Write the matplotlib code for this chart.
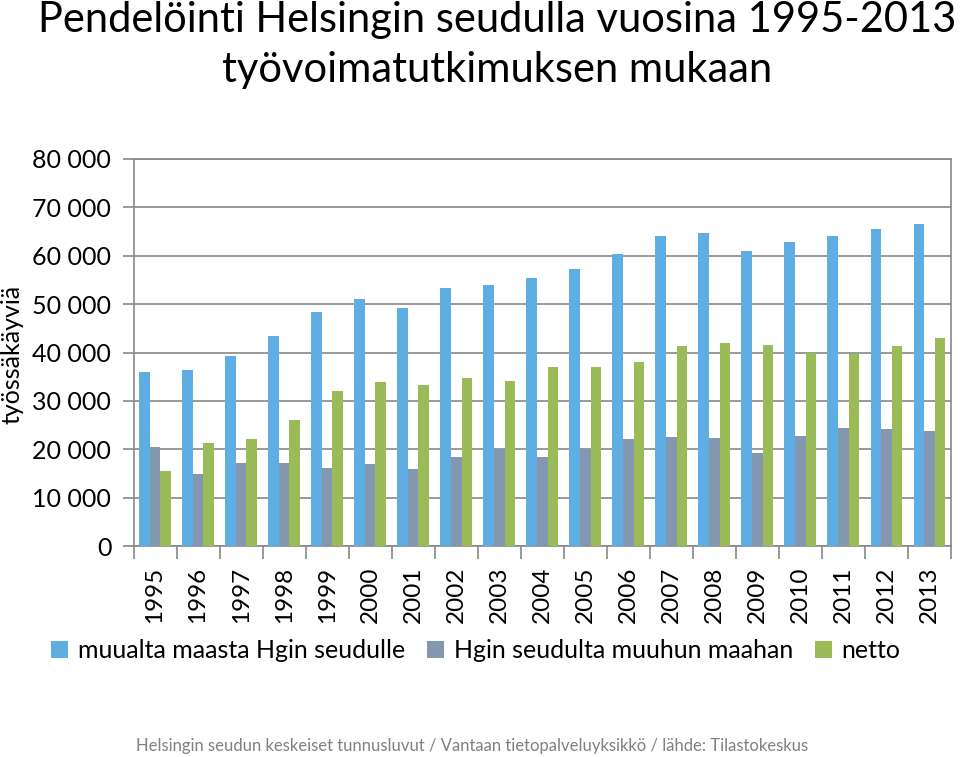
import numpy as np
import matplotlib
matplotlib.use("Agg")
import matplotlib.pyplot as plt

plt.rcParams["font.family"] = ["Lato", "DejaVu Sans"]

years = [str(y) for y in range(1995, 2014)]
inbound = [36000, 36300, 39200, 43400, 48400, 51000, 49300, 53400, 54000, 55500,
           57200, 60300, 64000, 64600, 61000, 62900, 64100, 65600, 66600]
outbound = [20500, 14800, 17100, 17200, 16200, 17000, 15900, 18500, 20000, 18400,
            20100, 22100, 22500, 22400, 19300, 22700, 24300, 24200, 23800]
netto = [15500, 21300, 22100, 26100, 32000, 33900, 33300, 34700, 34100, 36900,
         37000, 38000, 41300, 42000, 41600, 40000, 39700, 41300, 42900]
series_names = ["muualta maasta Hgin seudulle", "Hgin seudulta muuhun maahan", "netto"]
colors = ["#5FAEE3", "#8497B0", "#9BBB59"]

fig = plt.figure(figsize=(9.6, 7.57), dpi=100)
ax = fig.add_axes([133.5 / 960, 1 - 546 / 757, (951 - 133.5) / 960, (546 - 159) / 757])

x = np.arange(len(years))
w = 0.247
for i, (vals, name, c) in enumerate(zip([inbound, outbound, netto], series_names, colors)):
    ax.bar(x + (i - 1) * w, vals, width=w, color=c, label=name, zorder=3)

ax.set_xlim(-0.5, len(years) - 0.5)
ax.set_ylim(0, 80000)
ax.set_yticks(np.arange(0, 80001, 10000))
ax.set_yticklabels([f"{v:,}".replace(",", " ") for v in range(0, 80001, 10000)])
ax.grid(axis="y", color="#888888", linewidth=1.2, zorder=0)

ax.set_xticks(x)
ax.set_xticklabels(years, rotation=90)
ax.set_xticks(np.arange(-0.5, len(years)), minor=True)
ax.tick_params(axis="x", which="major", length=0, pad=15, labelsize=17.5)
ax.tick_params(axis="x", which="minor", length=9, width=1.2, color="#888888")
ax.tick_params(axis="y", length=8, width=1.2, color="#888888", labelsize=18, pad=8)

for s in ["left", "right", "top", "bottom"]:
    ax.spines[s].set_color("#888888")
    ax.spines[s].set_linewidth(1.2)

fig.text(12 / 960, 1 - 354 / 757, "työssäkäyviä", rotation=90, fontsize=18,
         ha="center", va="center")

fig.text(497 / 960, 1 - 20 / 757, "Pendelöinti Helsingin seudulla vuosina 1995-2013",
         fontsize=30, ha="center", va="center")
fig.text(497 / 960, 1 - 70 / 757, "työvoimatutkimuksen mukaan",
         fontsize=30, ha="center", va="center")

fig.legend(loc="center", bbox_to_anchor=(476 / 960, 1 - 651 / 757), ncol=3,
           frameon=False, fontsize=18, handlelength=0.65, handleheight=0.65,
           handletextpad=0.4, columnspacing=0.9)

fig.text(472 / 960, 1 - 746 / 757,
         "Helsingin seudun keskeiset tunnusluvut / Vantaan tietopalveluyksikkö / lähde: Tilastokeskus",
         fontsize=12, color="#808080", ha="center", va="center")

fig.savefig("out.png", dpi=100)
